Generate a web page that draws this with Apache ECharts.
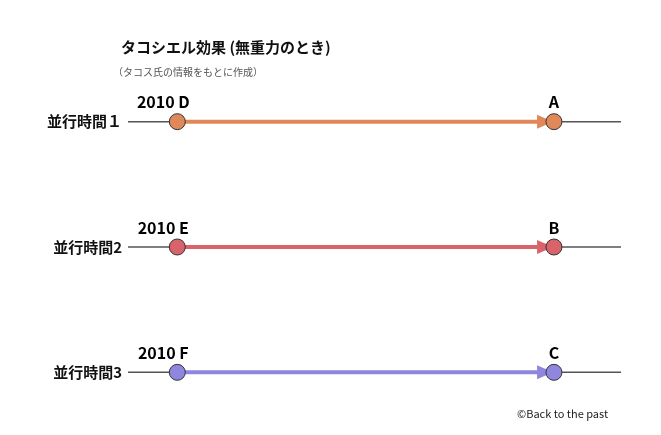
<!DOCTYPE html>
<html style="height: 100%">
<head><meta charset="utf-8"></head>
<body style="height: 100%; margin: 0; background: #fff">
<div id="container" style="width: 661px; height: 435px"></div>
<script src="https://cdn.jsdelivr.net/npm/echarts@6/dist/echarts.min.js"></script>
<script>
var timelines = ['並行時間１', '並行時間2', '並行時間3'];
var startPos = [10, 10, 10];
var endPos = [86.4, 86.4, 86.4];
var arrowEnd = [84.6, 84.6, 84.6];
var startLabels = ['2010 D', '2010 E', '2010 F'];
var endLabels = ['A', 'B', 'C'];
var colors = ['#E0885A', '#D9636A', '#8E87DD'];

var chart = echarts.init(document.getElementById('container'));
var font = '"Noto Sans CJK JP", sans-serif';
var series = [];

timelines.forEach(function (name, i) {
    // gray base line
    series.push({
        type: 'line', silent: true, symbol: 'none', z: 1,
        lineStyle: { color: '#555', width: 1.5 },
        data: [[0, name], [100, name]]
    });
    // colored arrow shaft
    series.push({
        type: 'line', silent: true, symbol: 'none', z: 2,
        lineStyle: { color: colors[i], width: 4 },
        data: [[startPos[i], name], [arrowEnd[i] - 1, name]]
    });
    // arrow head
    series.push({
        type: 'scatter', silent: true, z: 3,
        symbol: 'triangle', symbolRotate: -90, symbolSize: [14, 16],
        itemStyle: { color: colors[i], opacity: 1 },
        data: [[arrowEnd[i], name]]
    });
    // events
    series.push({
        type: 'scatter', z: 4, symbolSize: 16,
        itemStyle: { color: colors[i], borderColor: '#333', borderWidth: 1, opacity: 1 },
        label: {
            show: true, position: 'top', distance: 3,
            fontFamily: font, fontSize: 16, fontWeight: 'bold', color: '#000'
        },
        data: [
            { value: [startPos[i], name], label: { formatter: startLabels[i], offset: [-14, 0] } },
            { value: [endPos[i], name], label: { formatter: endLabels[i] } }
        ]
    });
});

chart.setOption({
    animation: false,
    title: [
        { text: 'タコシエル効果 (無重力のとき)', left: 116, top: 35,
          textStyle: { fontFamily: font, fontSize: 15, fontWeight: 'bold', color: '#111' } },
        { text: '（タコス氏の情報をもとに作成）', left: 108, top: 62,
          textStyle: { fontFamily: font, fontSize: 10, fontWeight: 'normal', color: '#555' } },
        { text: '©Back to the past', left: 512, top: 403,
          textStyle: { fontFamily: font, fontSize: 11, fontWeight: 'normal', color: '#222' } }
    ],
    grid: { left: 128, right: 40, top: 59, height: 378 },
    xAxis: { type: 'value', min: 0, max: 100, show: false },
    yAxis: {
        type: 'category', data: timelines, inverse: true,
        axisLine: { show: false }, axisTick: { show: false }, splitLine: { show: false },
        axisLabel: { margin: 6, fontFamily: font, fontSize: 15, fontWeight: 'bold', color: '#111' }
    },
    series: series
});
</script>
</body>
</html>
